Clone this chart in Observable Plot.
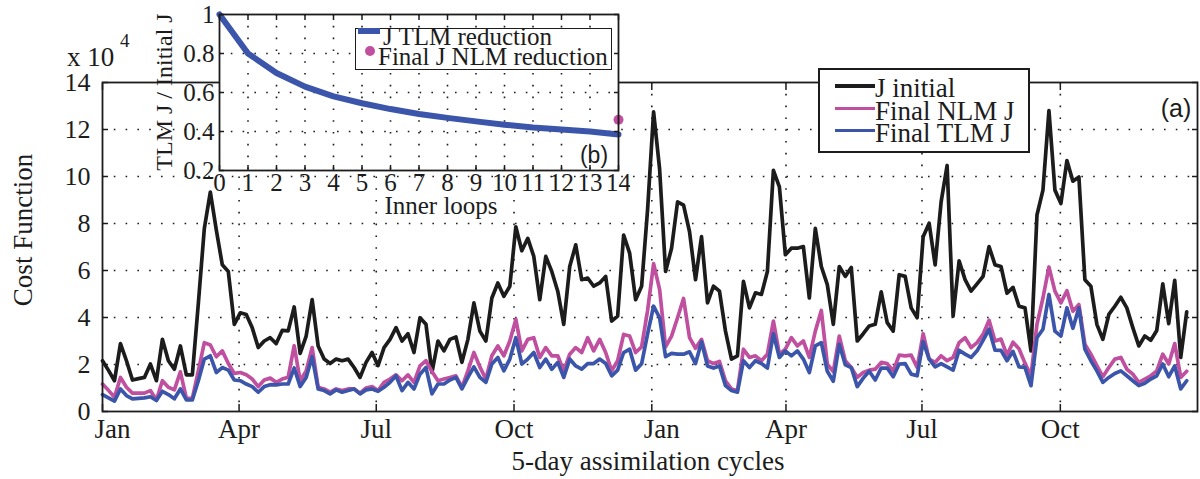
<!DOCTYPE html>
<html><head><meta charset="utf-8">
<script src="https://cdn.jsdelivr.net/npm/d3@7"></script>
<script src="https://cdn.jsdelivr.net/npm/@observablehq/plot@0.6"></script>
<style>
html,body{margin:0;padding:0;background:#fff;}
#wrap{position:relative;width:1200px;height:479px;overflow:hidden;font-family:'Liberation Serif','Times New Roman',serif;color:#1c1c1c;background:#fff;}
#wrap svg{position:absolute;}
.t{position:absolute;white-space:nowrap;line-height:0.8;}
.box{position:absolute;box-sizing:border-box;background:#fff;}
.sw{position:absolute;}
</style></head><body><div id="wrap"></div>
<script>
// ---- data (cost function, units of 10^4) ----
const jInitial = [2.16,1.75,1.31,2.89,2.16,1.34,1.40,1.45,2.02,1.31,
3.07,2.16,1.80,2.79,1.56,1.56,4.6,7.79,9.34,7.72,
6.24,5.96,3.71,4.20,4.13,3.56,2.72,3.00,3.14,2.89,
3.45,3.43,4.45,2.47,3.21,4.76,2.79,2.23,2.04,2.23,
2.16,2.23,1.87,1.45,2.09,2.51,1.95,2.72,3.07,3.57,
3.00,3.31,2.51,3.99,3.71,1.66,3.00,2.58,3.07,3.17,
2.09,3.07,4.62,3.42,3.00,4.83,5.47,4.90,5.33,7.86,
6.84,7.37,6.60,4.76,6.60,5.96,5.12,3.71,6.17,7.09,
5.61,5.68,5.33,5.47,5.75,3.85,4.06,7.51,6.74,4.76,
5.33,8.6,12.75,10.33,5.96,6.95,8.92,8.78,7.65,5.61,
7.44,4.62,5.33,5.12,3.42,2.23,2.37,5.54,4.41,5.05,
4.98,5.96,10.26,9.56,6.67,6.95,6.95,7.02,4.83,7.79,
6.17,5.40,3.71,6.17,5.75,6.13,3.00,3.31,3.64,3.71,
5.09,3.78,3.42,5.82,5.75,4.41,3.99,7.44,8.01,6.24,
8.92,10.47,4.06,6.41,5.61,5.12,5.43,5.75,7.02,6.24,
6.17,5.03,5.28,4.48,4.41,2.58,8.36,9.42,12.80,9.42,
8.85,10.68,9.80,9.98,5.61,5.33,3.71,3.07,4.13,4.48,
4.86,4.41,3.57,2.79,3.21,3.03,3.45,5.43,3.74,5.58,
2.30,4.24];
const finalNLM = [1.17,0.90,0.61,1.45,1.03,0.78,0.78,0.78,0.89,0.49,
1.31,1.03,0.92,1.69,0.56,0.56,1.73,2.93,2.83,2.33,
2.58,2.04,1.62,1.66,1.56,1.38,1.06,1.34,1.42,1.24,
1.38,1.46,2.80,1.31,1.73,2.72,1.03,0.96,0.82,0.96,
0.89,0.96,0.96,0.78,1.00,1.06,0.89,1.24,1.38,1.56,
1.31,1.56,1.24,1.94,2.16,1.70,1.31,1.38,1.45,1.52,
1.03,1.73,2.51,1.90,1.38,2.37,2.79,2.37,3.00,3.92,
2.58,3.07,3.14,2.30,2.72,2.37,2.37,1.73,2.44,2.72,
2.51,3.14,2.58,3.07,2.51,1.73,2.16,3.28,3.21,2.51,
2.75,4.30,6.29,5.20,2.75,3.21,3.99,4.81,3.14,2.69,
3.07,2.16,2.04,2.13,1.31,0.96,0.89,2.65,2.30,2.37,
2.16,2.44,3.85,2.44,2.65,3.14,2.79,3.00,2.30,3.42,
4.30,2.02,1.70,3.21,2.16,1.87,1.45,1.66,1.76,1.80,
2.09,2.04,1.73,2.40,2.37,2.40,1.87,3.31,2.23,2.09,
2.37,2.16,2.30,2.93,3.14,2.72,2.93,3.28,3.88,3.00,
3.08,2.40,2.95,2.67,2.06,1.52,3.71,4.83,6.15,5.12,
4.62,5.14,4.27,4.55,2.86,2.44,1.95,1.48,1.87,2.23,
2.30,1.80,1.59,1.24,1.38,1.52,1.73,2.44,2.02,2.89,
1.45,1.71];
const finalTLM = [0.72,0.58,0.44,0.96,0.68,0.54,0.56,0.58,0.63,0.47,
0.86,0.72,0.54,0.96,0.49,0.49,1.31,2.23,2.37,1.66,
1.87,1.76,1.34,1.31,1.17,1.06,0.82,1.06,1.14,1.13,
1.17,1.17,1.85,1.06,1.45,2.33,0.96,0.89,0.75,0.92,
0.82,0.89,0.96,0.75,0.92,0.96,0.86,1.03,1.24,1.52,
0.89,1.24,0.96,1.59,1.87,0.75,1.17,1.17,1.34,1.45,
0.96,1.45,1.90,1.45,1.24,2.02,2.30,1.73,2.23,3.14,
2.02,2.23,2.51,1.87,2.23,1.80,2.09,1.45,2.23,1.94,
1.80,2.04,2.04,2.23,2.04,1.52,1.76,2.51,2.65,1.76,
2.03,3.30,4.48,3.99,2.33,2.47,2.44,2.44,2.54,2.04,
2.97,1.94,1.85,1.94,1.10,0.89,0.82,2.16,1.87,2.16,
2.04,1.85,3.31,2.30,2.58,2.37,2.58,2.23,1.66,2.79,
2.93,1.71,1.29,2.86,1.99,1.87,1.06,1.42,1.71,1.34,
1.85,1.85,1.48,2.02,2.04,1.59,1.52,2.97,2.23,1.90,
2.04,1.90,1.76,2.61,2.44,2.30,2.58,3.03,3.50,2.61,
2.60,2.16,2.56,1.90,1.88,1.10,3.14,3.50,4.98,3.42,
3.21,4.41,3.54,4.41,2.65,2.16,1.73,1.24,1.45,1.62,
1.73,1.52,1.31,1.10,1.20,1.38,1.52,2.02,1.48,1.94,
0.96,1.31];
// month tick positions, in cycle numbers
const monthPos = [0, 22.8, 45.7, 68.7, 91.7, 114.1, 136.8, 159.9];
const monthLabels = ["Jan","Apr","Jul","Oct","Jan","Apr","Jul","Oct"];
const yTicks = [0,2,4,6,8,10,12,14];
const seriesNames = ["J initial","Final NLM J","Final TLM J"];
const seriesColors = ["#1c1c1c","#c0509f","#3b55aa"];
// inset (b)
const innerLoops = [0,1,2,3,4,5,6,7,8,9,10,11,12,13,14];
const tlmReduction = [1.0,0.80,0.70,0.63,0.58,0.545,0.515,0.49,0.47,0.452,0.435,0.42,0.41,0.40,0.385];
const nlmLoop = [14];
const nlmReduction = [0.46];
const insetYTicks = [0.2,0.4,0.6,0.8,1];
const insetLegend = ["J TLM reduction","Final J NLM reduction"];

const wrap = document.getElementById("wrap");
const ink = "#1c1c1c";
const dotted = {stroke: ink, strokeWidth: 1.6, strokeDasharray: "1.6,10.2"};
const serif = "'Liberation Serif','Times New Roman',serif";
const sans = "'Liberation Sans',Arial,sans-serif";
const seriesData = [jInitial, finalNLM, finalTLM];

const main = Plot.plot({
  width: 1200, height: 479,
  marginLeft: 102, marginRight: 3, marginTop: 82, marginBottom: 68,
  style: {background: "transparent", fontFamily: serif, fontSize: "26px", color: ink},
  x: {domain: [0, 182.8]},
  y: {domain: [0, 14]},
  marks: [
    Plot.ruleY(yTicks.filter(v => v > 0 && v < 14), dotted),
    Plot.ruleX(monthPos.slice(1), dotted),
    ...seriesData.map((vals, k) => Plot.lineY(vals, {x: (d, i) => i, y: d => d, stroke: seriesColors[k], strokeWidth: 3.7, strokeLinejoin: "round", strokeLinecap: "round"})),
    Plot.frame({stroke: ink, strokeWidth: 1.8}),
    Plot.axisY(yTicks, {anchor: "left", tickSize: 0, tickPadding: 12, label: null, fontSize: 26}),
    Plot.axisY(yTicks, {anchor: "left", tickSize: -6, fill: "none", label: null, strokeWidth: 1.5}),
    Plot.axisY(yTicks, {anchor: "right", tickSize: -6, fill: "none", label: null, strokeWidth: 1.5}),
    Plot.axisX(monthPos, {anchor: "bottom", tickSize: -7, fill: "none", label: null, strokeWidth: 1.5}),
    Plot.axisX(monthPos, {anchor: "top", tickSize: -7, fill: "none", label: null, strokeWidth: 1.5}),
    Plot.axisX(monthPos.filter((d, i) => monthLabels[i] !== "Jan"), {anchor: "bottom", tickSize: 0, tickPadding: 7, label: null, fontSize: 27, tickFormat: d => monthLabels[monthPos.indexOf(d)]}),
    Plot.axisX(monthPos.filter((d, i) => monthLabels[i] === "Jan"), {anchor: "bottom", tickSize: 0, tickPadding: 7, dx: 10, label: null, fontSize: 27, tickFormat: d => monthLabels[monthPos.indexOf(d)]})
  ]
});
main.style.left = "0px"; main.style.top = "0px";
wrap.appendChild(main);

const inset = Plot.plot({
  width: 480, height: 230,
  marginLeft: 69, marginRight: 12, marginTop: 14, marginBottom: 60,
  style: {background: "transparent", fontFamily: serif, fontSize: "25px", color: ink},
  x: {domain: [0, 14]},
  y: {domain: [0.2, 1]},
  marks: [
    Plot.frame({fill: "white", stroke: "none"}),
    Plot.ruleY([0.4, 0.6, 0.8], dotted),
    Plot.ruleX(innerLoops.slice(1, -1), dotted),
    Plot.lineY(tlmReduction, {x: (d, i) => innerLoops[i], y: d => d, stroke: seriesColors[2], strokeWidth: 6, strokeLinejoin: "round"}),
    Plot.dot(nlmReduction, {x: (d, i) => nlmLoop[i], y: d => d, r: 5, fill: seriesColors[1], stroke: "none"}),
    Plot.frame({stroke: ink, strokeWidth: 1.8}),
    Plot.axisY(insetYTicks, {anchor: "left", tickSize: 0, tickPadding: 5, label: null, fontSize: 25, tickFormat: d => d === 1 ? "1" : d3.format(".1f")(d)}),
    Plot.axisY(insetYTicks, {anchor: "left", tickSize: -5, fill: "none", label: null, strokeWidth: 1.5}),
    Plot.axisY(insetYTicks, {anchor: "right", tickSize: -5, fill: "none", label: null, strokeWidth: 1.5}),
    Plot.axisX(innerLoops, {anchor: "bottom", tickSize: 0, tickPadding: 3, label: null, fontSize: 25}),
    Plot.axisX(innerLoops, {anchor: "bottom", tickSize: -5, fill: "none", label: null, strokeWidth: 1.5}),
    Plot.axisX(innerLoops, {anchor: "top", tickSize: -5, fill: "none", label: null, strokeWidth: 1.5})
  ]
});
inset.style.left = "150px"; inset.style.top = "0px";
wrap.appendChild(inset);

// ---- text helpers ----
function txt(s, x, y, o = {}) {
  const d = document.createElement("div");
  d.className = "t";
  d.textContent = s;
  d.style.fontSize = (o.size || 24) + "px";
  d.style.fontFamily = o.font || serif;
  d.style.left = x + "px"; d.style.top = y + "px";
  const ax = o.anchor === "start" ? "0" : o.anchor === "end" ? "-100%" : "-50%";
  d.style.transform = `translate(${ax},-50%)`;
  if (o.rotate) { d.style.transformOrigin = "0 0"; d.style.transform = `rotate(${o.rotate}deg) translate(-50%,-50%)`; }
  wrap.appendChild(d);
  return d;
}
function box(x, y, w, h, bw) {
  const d = document.createElement("div");
  d.className = "box";
  Object.assign(d.style, {left: x + "px", top: y + "px", width: w + "px", height: h + "px", border: `${bw}px solid ${ink}`});
  wrap.appendChild(d);
}
function swatch(x, y, w, h, color, round) {
  const d = document.createElement("div");
  d.className = "sw";
  Object.assign(d.style, {left: x + "px", top: (y - h / 2) + "px", width: w + "px", height: h + "px", background: color, borderRadius: round ? "50%" : "0"});
  wrap.appendChild(d);
}

// axis titles
txt("x 10", 67, 58, {anchor: "start", size: 27});
txt("4", 120, 41, {anchor: "start", size: 19});
txt("Cost Function", 24, 230, {rotate: -90, size: 27});
txt("5-day assimilation cycles", 648, 462, {size: 27});
txt("(a)", 1176, 108, {size: 25, font: sans});

// main legend
box(818, 68, 212, 85, 2);
const legY = [86, 108.5, 130.5];
const legTextY = [89, 112, 133.5];
seriesNames.forEach((n, k) => {
  swatch(835, legY[k], 40, 3.8, seriesColors[k]);
  txt(n, 875, legTextY[k], {anchor: "start", size: 27});
});

// inset labels
txt("TLM J / Initial J", 165, 92, {rotate: -90, size: 24});
txt("Inner loops", 441, 206, {size: 25});
box(355, 28, 257, 42, 1.5);
swatch(358, 31, 22, 6, seriesColors[2]);
txt(insetLegend[0], 383, 37, {anchor: "start", size: 25});
swatch(365, 51, 10, 10, seriesColors[1], true);
txt(insetLegend[1], 378, 57, {anchor: "start", size: 25});
txt("(b)", 594, 155, {size: 23, font: sans});
</script></body></html>
